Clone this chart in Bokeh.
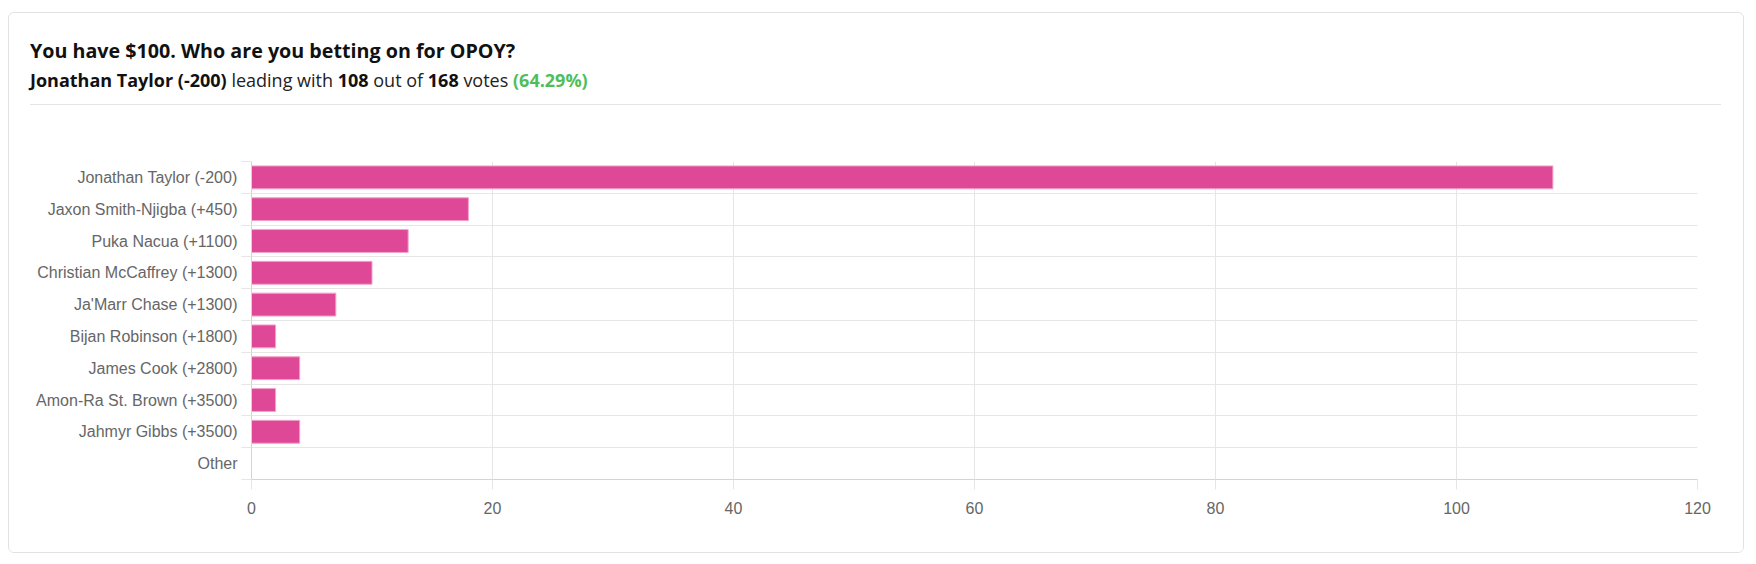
from bokeh.plotting import figure
from bokeh.layouts import column
from bokeh.models import Range1d, FixedTicker, Div
from bokeh.embed import file_html
from bokeh.resources import INLINE

# ---- data ----
names = [
    "Jonathan Taylor (-200)",
    "Jaxon Smith-Njigba (+450)",
    "Puka Nacua (+1100)",
    "Christian McCaffrey (+1300)",
    "Ja'Marr Chase (+1300)",
    "Bijan Robinson (+1800)",
    "James Cook (+2800)",
    "Amon-Ra St. Brown (+3500)",
    "Jahmyr Gibbs (+3500)",
    "Other",
]
votes = [108, 18, 13, 10, 7, 2, 4, 2, 4, 0]
x_ticks = [0, 20, 40, 60, 80, 100, 120]
title_text = "You have $100. Who are you betting on for OPOY?"

# ---- styling ----
BAR = "#df4897"
BAR_EDGE = "#f3a3c9"
GRID = "#e6e6e6"
AXIS = "#d4d4d4"
TICK_TXT = "#666666"
GREEN = "#4fbe5a"
HEAD_FONT = "'Open Sans', sans-serif"
TICK_FONT = "Liberation Sans"

CARD_W = 1734          # inner width of the card
HEAD_H = 100           # header strip height
CHART_H = 439          # chart strip height

# ================= header (title + subtitle + separator) =================
total = sum(votes)
lead = votes.index(max(votes))
pct = 100.0 * votes[lead] / total

subtitle_html = (
    f"<b style='color:#111111'>{names[lead]}</b> leading with "
    f"<b style='color:#111111'>{votes[lead]}</b> out of "
    f"<b style='color:#111111'>{total}</b> votes "
    f"<b style='color:{GREEN}'>({pct:.2f}%)</b>"
)

header_html = f"""
<div style="position:relative;width:{CARD_W}px;height:{HEAD_H}px;font-family:{HEAD_FONT};">
  <div style="position:absolute;left:21px;top:26px;font-size:19.7px;line-height:24px;
              font-weight:bold;color:#111111;white-space:nowrap;">{title_text}</div>
  <div style="position:absolute;left:21px;top:56px;font-size:18px;line-height:22px;
              color:#222222;white-space:nowrap;">{subtitle_html}</div>
  <div style="position:absolute;left:21px;top:91px;width:1691px;height:1px;
              background:#e5e5e5;"></div>
</div>
"""
header = Div(text=header_html, width=CARD_W, height=HEAD_H, margin=0)

# ================= chart =================
n = len(names)
ys = [n - 0.5 - i for i in range(n)]

p = figure(
    width=CARD_W, height=CHART_H,
    x_range=Range1d(0, 120), y_range=Range1d(0, n),
    output_backend="svg", toolbar_location=None,
    min_border_left=242, min_border_right=46,
    min_border_top=48, min_border_bottom=73,
)
p.outline_line_color = None
p.background_fill_color = "white"
p.border_fill_color = "white"

p.hbar(
    y=ys, left=0, right=votes, height=0.72,
    fill_color=BAR,
    line_color=[BAR_EDGE if v > 0 else None for v in votes],
    line_width=1,
)

# x axis
p.xaxis.ticker = FixedTicker(ticks=x_ticks)
p.xaxis.major_tick_in = 0
p.xaxis.major_tick_out = 10
p.xaxis.major_tick_line_color = GRID
p.xaxis.minor_tick_line_color = None
p.xaxis.axis_line_color = AXIS
p.xaxis.major_label_text_font = TICK_FONT
p.xaxis.major_label_text_font_size = "16px"
p.xaxis.major_label_text_color = TICK_TXT
p.xaxis.major_label_standoff = 12
p.xgrid.ticker = FixedTicker(ticks=x_ticks)
p.xgrid.grid_line_color = GRID

# y axis
p.yaxis.ticker = FixedTicker(ticks=ys, minor_ticks=list(range(n + 1)))
p.yaxis.major_label_overrides = {y: name for y, name in zip(ys, names)}
p.yaxis.major_tick_line_color = None
p.yaxis.major_tick_in = 0
p.yaxis.major_tick_out = 0
p.yaxis.minor_tick_in = 0
p.yaxis.minor_tick_out = 10
p.yaxis.minor_tick_line_color = GRID
p.yaxis.axis_line_color = AXIS
p.yaxis.major_label_text_font = TICK_FONT
p.yaxis.major_label_text_font_size = "16px"
p.yaxis.major_label_text_color = TICK_TXT
p.yaxis.major_label_standoff = 4
p.ygrid.ticker = FixedTicker(ticks=list(range(n + 1)))
p.ygrid.grid_line_color = GRID

layout = column(
    header, p,
    margin=(12, 0, 0, 8),
    styles={"border": "1px solid #e2e2e2", "border-radius": "6px",
            "overflow": "hidden", "background": "white"},
)

open("out.html", "w").write(file_html(layout, INLINE))
